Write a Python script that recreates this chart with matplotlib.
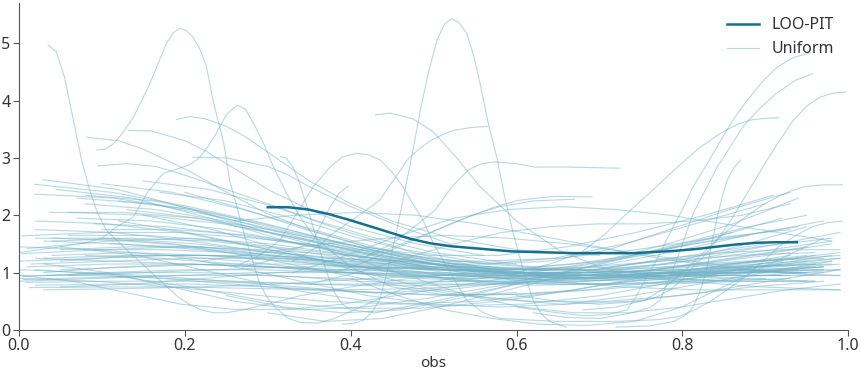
import numpy as np
import matplotlib.pyplot as plt

plt.rcParams['font.family'] = ['Noto Sans', 'DejaVu Sans']

dark = '#14708e'
light = '#71b2c7'

# LOO-PIT kde
loo_x = np.linspace(0.30, 0.938, 27)
loo_y = [2.14, 2.14, 2.10, 2.02, 1.92, 1.81, 1.70, 1.59, 1.51, 1.46, 1.43, 1.40, 1.37, 1.36,
         1.35, 1.34, 1.34, 1.34, 1.34, 1.36, 1.38, 1.41, 1.45, 1.49, 1.52, 1.53, 1.53]

# uniform kde samples with a distinct shape: (xs, ys)
unif_peaks = [
    ([0.035, 0.045, 0.055, 0.065, 0.075, 0.085, 0.095, 0.105, 0.115, 0.13, 0.145, 0.16, 0.175, 0.19,
      0.205, 0.22, 0.235, 0.25, 0.27, 0.3, 0.34, 0.4, 0.47, 0.55],
     [4.97, 4.85, 4.4, 3.7, 3.0, 2.45, 2.03, 1.75, 1.6, 1.4, 1.2, 1.0, 0.8, 0.6,
      0.45, 0.35, 0.3, 0.3, 0.35, 0.45, 0.6, 0.75, 0.9, 1.0]),
    ([0.094, 0.104, 0.114, 0.126, 0.138, 0.148, 0.158, 0.168, 0.178, 0.186, 0.194, 0.202, 0.21, 0.218,
      0.226, 0.234, 0.241, 0.247, 0.254, 0.26, 0.266, 0.272, 0.279, 0.285, 0.29, 0.3, 0.31, 0.325,
      0.34, 0.36, 0.38, 0.42, 0.46, 0.52, 0.6],
     [3.14, 3.15, 3.25, 3.45, 3.71, 4.0, 4.3, 4.65, 5.0, 5.18, 5.26, 5.22, 5.1, 4.9,
      4.6, 4.0, 3.6, 3.25, 2.61, 2.3, 1.97, 1.65, 1.34, 1.05, 0.82, 0.55, 0.38, 0.2,
      0.13, 0.12, 0.2, 0.45, 0.7, 0.9, 1.0]),
    ([0.0, 0.05, 0.08, 0.1, 0.118, 0.138, 0.155, 0.174, 0.194, 0.206, 0.218, 0.228, 0.238, 0.25, 0.263,
      0.273, 0.283, 0.295, 0.307, 0.322, 0.339, 0.355, 0.37, 0.4, 0.45, 0.52, 0.6],
     [1.35, 1.45, 1.52, 1.6, 1.8, 1.97, 2.4, 2.73, 2.82, 2.88, 3.01, 3.2, 3.43, 3.75, 3.92,
      3.85, 3.6, 3.25, 2.84, 2.4, 1.97, 1.65, 1.45, 1.1, 0.75, 0.6, 0.65]),
    ([0.082, 0.12, 0.15, 0.178, 0.208, 0.238, 0.27, 0.299, 0.35, 0.42, 0.5, 0.6, 0.7],
     [3.36, 3.3, 3.15, 2.96, 2.75, 2.5, 2.25, 2.03, 1.75, 1.45, 1.2, 1.05, 1.0]),
    ([0.19, 0.206, 0.225, 0.25, 0.275, 0.3, 0.325, 0.35, 0.4, 0.45, 0.52, 0.6, 0.7],
     [3.67, 3.72, 3.68, 3.55, 3.35, 3.1, 2.85, 2.6, 2.2, 1.9, 1.6, 1.4, 1.3]),
    ([0.132, 0.16, 0.2, 0.225, 0.25, 0.275, 0.3, 0.35, 0.4, 0.48, 0.56],
     [3.48, 3.47, 3.3, 3.12, 2.9, 2.68, 2.45, 2.1, 1.8, 1.5, 1.3]),
    ([0.095, 0.13, 0.165, 0.2, 0.25, 0.3, 0.36, 0.43, 0.5, 0.6],
     [2.86, 2.9, 2.85, 2.7, 2.45, 2.2, 1.9, 1.6, 1.35, 1.15]),
    ([0.21, 0.25, 0.3, 0.325, 0.35, 0.4, 0.46, 0.52],
     [3.01, 3.0, 2.85, 2.7, 2.5, 2.15, 1.8, 1.5]),
    ([0.39, 0.405, 0.415, 0.425, 0.435, 0.4475, 0.455, 0.463, 0.474, 0.484, 0.494, 0.504, 0.513, 0.522,
      0.531, 0.54, 0.548, 0.556, 0.566, 0.577, 0.586, 0.596, 0.608, 0.62, 0.63, 0.64, 0.66],
     [0.1, 0.12, 0.17, 0.3, 0.52, 1.22, 1.7, 2.26, 3.05, 3.83, 4.5, 5.05, 5.33, 5.43,
      5.35, 5.17, 4.8, 4.3, 3.6, 2.96, 2.3, 1.69, 1.05, 0.52, 0.28, 0.15, 0.05]),
    ([0.43, 0.448, 0.475, 0.5, 0.528, 0.556, 0.6, 0.65, 0.7, 0.78, 0.86],
     [3.75, 3.78, 3.68, 3.45, 3.0, 2.5, 1.9, 1.4, 1.1, 0.9, 0.85]),
    ([0.33, 0.36, 0.38, 0.41, 0.435, 0.452, 0.468, 0.482, 0.496, 0.51, 0.524, 0.545, 0.566],
     [1.2, 1.45, 1.7, 2.0, 2.26, 2.62, 2.96, 3.15, 3.3, 3.4, 3.48, 3.53, 3.55]),
    ([0.26, 0.29, 0.315, 0.335, 0.355, 0.375, 0.39, 0.408, 0.422, 0.436, 0.45, 0.463, 0.475, 0.487,
      0.5, 0.516, 0.528, 0.54, 0.56, 0.58, 0.65],
     [1.1, 1.3, 1.57, 2.03, 2.5, 2.84, 3.02, 3.08, 3.05, 2.96, 2.75, 2.5, 2.2, 1.92,
      1.5, 1.1, 0.8, 0.52, 0.3, 0.2, 0.15]),
    ([0.27, 0.3, 0.32, 0.34, 0.355, 0.365, 0.375, 0.386, 0.397],
     [1.1, 1.2, 1.35, 1.45, 1.57, 1.85, 2.14, 2.38, 2.51]),
    ([0.315, 0.322, 0.33, 0.338, 0.345, 0.351, 0.357, 0.363, 0.369, 0.375, 0.381, 0.39, 0.4, 0.43, 0.5, 0.6],
     [3.02, 3.0, 2.85, 2.58, 2.26, 1.97, 1.69, 1.38, 1.1, 0.85, 0.64, 0.45, 0.35, 0.3, 0.5, 0.8]),
    ([0.42, 0.45, 0.475, 0.502, 0.522, 0.542, 0.558, 0.574, 0.6, 0.622, 0.662, 0.725],
     [1.3, 1.5, 1.78, 2.09, 2.5, 2.79, 2.9, 2.93, 2.9, 2.84, 2.84, 2.82]),
    ([0.4, 0.44, 0.47, 0.505, 0.542, 0.575, 0.602, 0.625, 0.647, 0.691],
     [1.2, 1.38, 1.55, 1.75, 1.97, 2.15, 2.26, 2.3, 2.33, 2.32]),
    ([0.38, 0.42, 0.45, 0.485, 0.52, 0.55, 0.58, 0.62, 0.67],
     [1.0, 1.2, 1.4, 1.62, 1.85, 2.02, 2.15, 2.25, 2.28]),
    ([0.6, 0.65, 0.68, 0.71, 0.733, 0.743, 0.753, 0.77, 0.785, 0.8, 0.813, 0.83, 0.846, 0.862, 0.878,
      0.896, 0.914, 0.934, 0.954],
     [0.4, 0.3, 0.25, 0.27, 0.35, 0.55, 0.82, 1.25, 1.69, 2.1, 2.5, 2.9, 3.3, 3.68, 4.0,
      4.32, 4.58, 4.75, 4.83]),
    ([0.62, 0.66, 0.7, 0.74, 0.762, 0.773, 0.783, 0.793, 0.803, 0.813, 0.828, 0.842, 0.858, 0.873,
      0.893, 0.914, 0.936, 0.957],
     [0.3, 0.22, 0.2, 0.3, 0.4, 0.52, 0.85, 1.22, 1.62, 2.03, 2.45, 2.84, 3.2, 3.54,
      3.86, 4.13, 4.35, 4.47]),
    ([0.6, 0.65, 0.7, 0.75, 0.77, 0.785, 0.8, 0.813, 0.828, 0.842, 0.858, 0.873, 0.888, 0.902, 0.918,
      0.934, 0.95, 0.966, 0.982, 0.997],
     [0.6, 0.5, 0.45, 0.5, 0.58, 0.7, 0.88, 1.1, 1.32, 1.57, 1.9, 2.26, 2.62, 2.96, 3.32,
      3.66, 3.9, 4.06, 4.13, 4.15]),
    ([0.6, 0.64, 0.677, 0.705, 0.733, 0.765, 0.794, 0.82, 0.846, 0.866, 0.882, 0.9, 0.916],
     [1.0, 1.15, 1.34, 1.65, 2.03, 2.45, 2.84, 3.17, 3.43, 3.58, 3.66, 3.69, 3.7]),
    ([0.72, 0.76, 0.79, 0.803, 0.813, 0.822, 0.83, 0.836, 0.842, 0.848, 0.854, 0.862, 0.87],
     [0.05, 0.07, 0.15, 0.25, 0.4, 0.7, 1.1, 1.55, 1.97, 2.32, 2.61, 2.82, 2.96]),
    ([0.68, 0.72, 0.755, 0.775, 0.795, 0.815, 0.836, 0.856, 0.876, 0.896, 0.916, 0.932, 0.948, 0.97, 0.993],
     [0.35, 0.4, 0.52, 0.7, 0.93, 1.2, 1.5, 1.75, 1.97, 2.17, 2.33, 2.43, 2.5, 2.53, 2.53]),
    ([0.65, 0.72, 0.77, 0.795, 0.815, 0.836, 0.856, 0.876, 0.896, 0.916, 0.937, 0.957, 0.975, 0.993],
     [0.15, 0.15, 0.18, 0.23, 0.35, 0.52, 0.72, 0.93, 1.18, 1.45, 1.65, 1.8, 1.87, 1.9]),
]

# the bundle of uniform kde samples: (start, end, values at even steps)
unif_bundle = [
    (0.029, 0.93, [2.62, 2.45, 2.1, 1.7, 1.35, 1.1, 0.95, 0.9, 0.95, 1.1, 1.3]),
    (0.019, 0.95, [2.54, 2.4, 2.15, 1.85, 1.5, 1.2, 1.0, 0.95, 1.05, 1.25, 1.45]),
    (0.019, 0.96, [2.37, 2.3, 2.1, 1.75, 1.4, 1.1, 0.9, 0.85, 0.9, 1.0, 1.1]),
    (0.045, 0.97, [2.45, 2.3, 1.95, 1.55, 1.25, 1.05, 1.0, 1.1, 1.35, 1.65, 1.9]),
    (0.037, 0.92, [2.05, 2.05, 1.95, 1.75, 1.5, 1.25, 1.05, 0.95, 0.95, 1.05, 1.15]),
    (0.06, 0.99, [2.05, 2.0, 1.85, 1.6, 1.35, 1.15, 1.05, 1.05, 1.2, 1.45, 1.7]),
    (0.003, 0.94, [1.64, 1.7, 1.7, 1.6, 1.45, 1.3, 1.15, 1.05, 1.0, 1.0, 1.05]),
    (0.003, 0.98, [1.33, 1.4, 1.45, 1.4, 1.3, 1.15, 1.05, 1.05, 1.15, 1.35, 1.55]),
    (0.01, 0.99, [1.42, 1.55, 1.6, 1.5, 1.3, 1.1, 0.95, 0.9, 0.95, 1.1, 1.25]),
    (0.005, 0.97, [0.93, 1.0, 1.05, 1.05, 1.0, 0.95, 0.95, 1.0, 1.1, 1.2, 1.25]),
    (0.005, 0.96, [0.88, 0.92, 0.95, 0.95, 0.9, 0.85, 0.85, 0.9, 1.0, 1.1, 1.15]),
    (0.008, 0.99, [0.83, 0.85, 0.85, 0.82, 0.78, 0.78, 0.82, 0.9, 1.0, 1.05, 1.05]),
    (0.013, 0.95, [0.74, 0.75, 0.75, 0.72, 0.7, 0.72, 0.8, 0.9, 1.0, 1.05, 1.0]),
    (0.02, 0.97, [0.78, 0.8, 0.8, 0.75, 0.68, 0.62, 0.62, 0.7, 0.85, 1.0, 1.1]),
    (0.03, 0.93, [1.0, 1.1, 1.15, 1.1, 1.0, 0.9, 0.85, 0.85, 0.9, 0.95, 0.95]),
    (0.05, 0.98, [1.2, 1.3, 1.3, 1.2, 1.05, 0.95, 0.9, 0.95, 1.1, 1.3, 1.5]),
    (0.1, 0.99, [1.75, 1.75, 1.65, 1.45, 1.25, 1.05, 0.95, 0.95, 1.05, 1.2, 1.35]),
    (0.02, 0.9, [1.9, 1.85, 1.7, 1.45, 1.2, 1.0, 0.85, 0.8, 0.8, 0.85, 0.9]),
    (0.04, 0.99, [1.55, 1.6, 1.55, 1.4, 1.2, 1.0, 0.85, 0.8, 0.85, 0.95, 1.05]),
    (0.015, 0.97, [1.15, 1.2, 1.25, 1.25, 1.2, 1.1, 1.0, 0.95, 0.95, 1.0, 1.05]),
    (0.07, 0.96, [2.3, 2.2, 1.95, 1.65, 1.35, 1.1, 0.95, 0.9, 0.95, 1.1, 1.3]),
    (0.0, 0.92, [0.9, 0.85, 0.75, 0.62, 0.5, 0.45, 0.5, 0.65, 0.85, 1.05, 1.2]),
    (0.02, 0.95, [1.05, 0.95, 0.75, 0.5, 0.38, 0.38, 0.5, 0.7, 0.95, 1.15, 1.3]),
    (0.05, 0.98, [1.45, 1.3, 1.0, 0.7, 0.5, 0.42, 0.45, 0.6, 0.85, 1.1, 1.3]),
    (0.1, 0.97, [1.6, 1.5, 1.3, 1.05, 0.8, 0.6, 0.5, 0.5, 0.6, 0.75, 0.85]),
    (0.15, 0.99, [2.0, 1.75, 1.4, 1.05, 0.75, 0.55, 0.45, 0.5, 0.65, 0.85, 1.05]),
    (0.02, 0.96, [1.75, 1.7, 1.55, 1.35, 1.15, 1.0, 0.9, 0.9, 0.95, 1.05, 1.15]),
    (0.03, 0.99, [1.25, 1.3, 1.3, 1.25, 1.15, 1.05, 1.0, 1.0, 1.05, 1.15, 1.25]),
    (0.06, 0.95, [0.95, 1.0, 1.05, 1.1, 1.1, 1.05, 1.0, 0.95, 0.9, 0.85, 0.85]),
    (0.04, 0.94, [1.6, 1.55, 1.45, 1.3, 1.15, 1.05, 1.05, 1.15, 1.35, 1.6, 1.8]),
    (0.08, 0.92, [2.2, 2.1, 1.9, 1.6, 1.35, 1.15, 1.05, 1.1, 1.3, 1.6, 1.95]),
    (0.05, 0.9, [1.4, 1.45, 1.45, 1.35, 1.25, 1.15, 1.15, 1.25, 1.5, 1.85, 2.2]),
    (0.1, 0.95, [2.55, 2.4, 2.1, 1.75, 1.4, 1.15, 1.0, 1.0, 1.15, 1.45, 1.8]),
    (0.03, 0.97, [0.95, 1.0, 1.0, 0.95, 0.85, 0.8, 0.8, 0.85, 0.95, 1.05, 1.1]),
    (0.0, 0.93, [1.2, 1.25, 1.3, 1.3, 1.25, 1.2, 1.2, 1.25, 1.4, 1.6, 1.75]),
    (0.12, 0.99, [2.25, 2.1, 1.85, 1.55, 1.25, 1.0, 0.85, 0.75, 0.7, 0.7, 0.7]),
    (0.07, 0.96, [1.0, 0.95, 0.85, 0.75, 0.65, 0.6, 0.62, 0.7, 0.8, 0.85, 0.85]),
    (0.09, 0.98, [1.85, 1.8, 1.65, 1.45, 1.25, 1.1, 1.05, 1.1, 1.25, 1.45, 1.6]),
    (0.11, 0.93, [1.5, 1.45, 1.35, 1.2, 1.05, 0.95, 0.9, 0.95, 1.05, 1.2, 1.35]),
    (0.17, 0.97, [2.4, 2.25, 1.95, 1.6, 1.3, 1.05, 0.9, 0.85, 0.9, 1.0, 1.1]),
    (0.15, 0.94, [2.6, 2.45, 2.15, 1.75, 1.4, 1.2, 1.1, 1.2, 1.5, 1.85, 2.3]),
    (0.08, 0.91, [2.35, 2.25, 2.0, 1.7, 1.45, 1.3, 1.3, 1.45, 1.7, 2.0, 2.35]),
    (0.2, 0.93, [2.4, 2.1, 1.75, 1.45, 1.25, 1.15, 1.2, 1.4, 1.75, 2.1, 2.4]),
    (0.0, 0.88, [0.95, 0.95, 0.9, 0.85, 0.8, 0.8, 0.85, 1.0, 1.2, 1.45, 1.65]),
    (0.3, 0.99, [0.3, 0.15, 0.2, 0.4, 0.65, 0.9, 1.1, 1.25, 1.35, 1.4, 1.4]),
    (0.25, 0.95, [0.6, 0.4, 0.3, 0.35, 0.55, 0.8, 1.05, 1.3, 1.55, 1.8, 2.0]),
    (0.4, 0.97, [0.9, 0.6, 0.35, 0.2, 0.1, 0.08, 0.15, 0.4, 0.8, 1.2, 1.6]),
    (0.35, 0.99, [1.5, 1.2, 0.9, 0.6, 0.4, 0.3, 0.3, 0.4, 0.55, 0.7, 0.8]),
    (0.0, 0.86, [1.05, 1.0, 0.9, 0.8, 0.7, 0.65, 0.7, 0.85, 1.1, 1.4, 1.7]),
    (0.18, 0.98, [1.3, 1.1, 0.85, 0.6, 0.45, 0.4, 0.45, 0.6, 0.8, 1.0, 1.2]),
    (0.22, 0.96, [1.2, 1.35, 1.5, 1.6, 1.65, 1.6, 1.5, 1.35, 1.2, 1.05, 0.95]),
    (0.26, 0.99, [1.9, 2.0, 2.05, 2.0, 1.85, 1.65, 1.45, 1.25, 1.1, 1.0, 0.95]),
    (0.05, 0.92, [0.75, 0.8, 0.9, 1.0, 1.05, 1.1, 1.1, 1.05, 1.0, 0.95, 0.95]),
    (0.33, 0.98, [1.0, 1.3, 1.65, 1.95, 2.1, 2.15, 2.1, 2.0, 1.85, 1.7, 1.55]),
    (0.35, 0.93, [0.8, 1.0, 1.25, 1.5, 1.7, 1.8, 1.85, 1.85, 1.9, 2.0, 2.2]),
    (0.06, 0.99, [1.65, 1.65, 1.55, 1.4, 1.25, 1.1, 1.0, 0.95, 0.95, 0.95, 0.95]),
    (0.0, 0.9, [1.45, 1.4, 1.3, 1.2, 1.05, 0.95, 0.9, 0.95, 1.1, 1.3, 1.5]),
    (0.03, 0.97, [1.55, 1.5, 1.4, 1.25, 1.1, 1.0, 0.95, 0.95, 1.0, 1.0, 1.0]),
    (0.08, 0.99, [1.3, 1.25, 1.15, 1.05, 0.95, 0.9, 0.88, 0.9, 0.95, 1.05, 1.15]),
    (0.12, 0.95, [1.9, 1.7, 1.45, 1.2, 1.0, 0.85, 0.78, 0.8, 0.9, 1.05, 1.2]),
    (0.0, 0.65, [0.95, 0.85, 0.65, 0.45, 0.36, 0.36, 0.45, 0.6, 0.75, 0.9, 1.0]),
    (0.03, 0.8, [1.15, 1.0, 0.75, 0.5, 0.35, 0.4, 0.55, 0.75, 0.9, 1.0, 1.05]),
    (0.01, 0.98, [1.1, 1.15, 1.15, 1.1, 1.05, 1.0, 0.98, 1.0, 1.05, 1.1, 1.15]),
    (0.04, 0.96, [1.3, 1.35, 1.3, 1.2, 1.1, 1.05, 1.05, 1.1, 1.2, 1.3, 1.35]),
    (0.02, 0.99, [1.6, 1.6, 1.5, 1.35, 1.2, 1.1, 1.05, 1.05, 1.1, 1.2, 1.3]),
    (0.07, 0.97, [1.95, 1.9, 1.75, 1.5, 1.25, 1.05, 0.95, 0.9, 0.95, 1.0, 1.05]),
    (0.0, 0.95, [0.85, 0.9, 0.95, 1.0, 1.0, 0.98, 0.95, 0.95, 0.98, 1.0, 1.0]),
    (0.05, 0.99, [1.05, 1.1, 1.15, 1.15, 1.1, 1.05, 1.0, 0.95, 0.85, 0.75, 0.7]),
    (0.09, 0.94, [1.4, 1.4, 1.35, 1.25, 1.15, 1.05, 1.0, 1.0, 1.05, 1.15, 1.25]),
    (0.13, 0.98, [2.1, 1.95, 1.7, 1.45, 1.2, 1.05, 0.95, 0.95, 1.0, 1.1, 1.2]),
    (0.02, 0.93, [1.25, 1.2, 1.15, 1.1, 1.05, 0.95, 0.85, 0.8, 0.8, 0.85, 0.9]),
    (0.03, 0.96, [0.7, 0.72, 0.75, 0.8, 0.88, 0.95, 1.0, 1.0, 0.95, 0.9, 0.85]),
]

fig, ax = plt.subplots(figsize=(8.62, 3.75), dpi=100)
fig.subplots_adjust(left=0.022, right=0.984, top=0.992, bottom=0.12)

for xs, ys in unif_peaks:
    ax.plot(xs, ys, color=light, alpha=0.5, lw=0.8)
for x0, x1, ys in unif_bundle:
    ax.plot(np.linspace(x0, x1, len(ys)), ys, color=light, alpha=0.5, lw=0.8)

ax.plot(loo_x, loo_y, color=dark, lw=1.8, label='LOO-PIT', zorder=5)
ax.plot([], [], color=light, alpha=0.5, lw=0.8, label='Uniform')

ax.set_xlim(0, 1)
ax.set_ylim(0, 5.7)
ax.set_xticks([0.0, 0.2, 0.4, 0.6, 0.8, 1.0])
ax.set_yticks([0, 1, 2, 3, 4, 5])
ax.set_xlabel('obs', fontsize=11, color='#333333', labelpad=1)
ax.tick_params(labelsize=11.5, labelcolor='#333333', color='#555555', length=4, pad=2)
for s in ['top', 'right']:
    ax.spines[s].set_visible(False)
for s in ['left', 'bottom']:
    ax.spines[s].set_color('#555555')
ax.legend(loc='upper right', frameon=False, fontsize=11.5, labelcolor='#333333')

fig.savefig('out.png', dpi=100)
